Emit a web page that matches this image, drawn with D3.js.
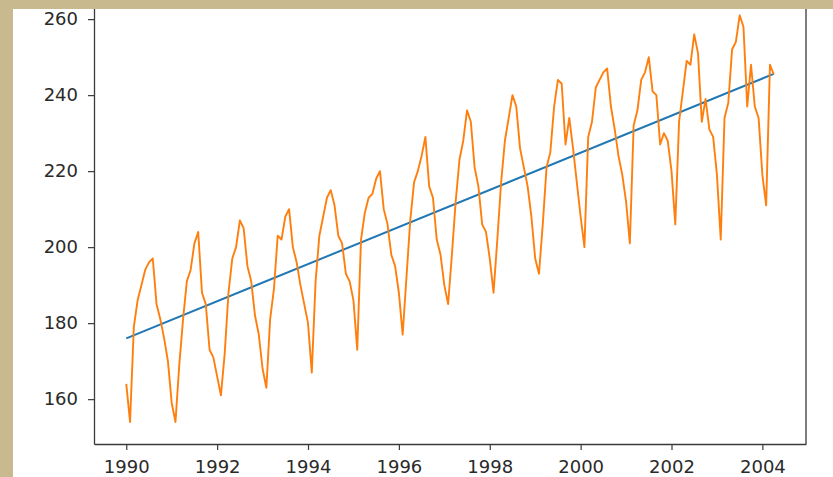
<!DOCTYPE html>
<html>
<head>
<meta charset="utf-8">
<script src="https://cdn.jsdelivr.net/npm/d3@7/dist/d3.min.js"></script>
<style>
  html, body { margin: 0; padding: 0; background: #ffffff; }
  svg { display: block; }
  .tick text { font-family: "DejaVu Sans", sans-serif; font-size: 18px; fill: #2a2a2a; }
</style>
</head>
<body>
<svg id="chart" width="833" height="477"></svg>
<script>
// Monthly series, January 1990 through April 2004 (one row per year)
const startYear = 1990;
const monthly = [
  164, 154, 179, 186, 190, 194, 196, 197, 185, 181, 176, 170,   // 1990
  159, 154, 169, 181, 191, 194, 201, 204, 188, 185, 173, 171,   // 1991
  166, 161, 172, 188, 197, 200, 207, 205, 195, 191, 182, 177,   // 1992
  168, 163, 181, 189, 203, 202, 208, 210, 200, 196, 190, 185,   // 1993
  180, 167, 191, 203, 208, 213, 215, 211, 203, 201, 193, 191,   // 1994
  186, 173, 202, 209, 213, 214, 218, 220, 210, 206, 198, 195,   // 1995
  188, 177, 192, 207, 217, 220, 224, 229, 216, 213, 202, 198,   // 1996
  190, 185, 198, 212, 223, 228, 236, 233, 221, 216, 206, 204,   // 1997
  197, 188, 202, 217, 228, 234, 240, 237, 226, 221, 216, 208,   // 1998
  197, 193, 206, 221, 225, 237, 244, 243, 227, 234, 226, 217,   // 1999
  208, 200, 229, 233, 242, 244, 246, 247, 237, 231, 224, 219,   // 2000
  212, 201, 232, 236, 244, 246, 250, 241, 240, 227, 230, 228,   // 2001
  220, 206, 233, 241, 249, 248, 256, 251, 233, 239, 231, 229,   // 2002
  219, 202, 234, 238, 252, 254, 261, 258, 237, 248, 237, 234,   // 2003
  219, 211, 248, 245.5                                          // 2004
];

// Linear trend fitted to the series: value at the first and last month
const trendEnds = [176.0, 245.6];

// Axis ticks
const yearTicks = [1990, 1992, 1994, 1996, 1998, 2000, 2002, 2004];
const valueTicks = [160, 180, 200, 220, 240, 260];

const series = monthly.map((v, i) => ({ t: startYear + i / 12, v }));
const trend = [
  { t: series[0].t, v: trendEnds[0] },
  { t: series[series.length - 1].t, v: trendEnds[1] }
];

const svg = d3.select("#chart");
const plotLeft = 94, plotRight = 806, plotTop = -9, plotBottom = 444;

const x = d3.scaleLinear().domain([1989.29, 2004.96]).range([plotLeft, plotRight]);
const y = d3.scaleLinear().domain([148.2, 267.4]).range([plotBottom, plotTop]);

const line = d3.line().x(d => x(d.t)).y(d => y(d.v));

// trend first, series drawn over it
svg.append("path")
  .datum(trend)
  .attr("d", line)
  .attr("fill", "none")
  .attr("stroke", "#1f77b4")
  .attr("stroke-width", 2);

svg.append("path")
  .datum(series)
  .attr("d", line)
  .attr("fill", "none")
  .attr("stroke", "#ff7f0e")
  .attr("stroke-width", 1.9)
  .attr("stroke-linejoin", "round");

// axes
const xAxis = svg.append("g")
  .attr("transform", `translate(0,${plotBottom})`)
  .call(d3.axisBottom(x).tickValues(yearTicks).tickFormat(d3.format("d"))
    .tickSize(6).tickSizeOuter(0).tickPadding(10));

const yAxis = svg.append("g")
  .attr("transform", `translate(${plotLeft},0)`)
  .call(d3.axisLeft(y).tickValues(valueTicks)
    .tickSize(6).tickSizeOuter(0).tickPadding(10));

[xAxis, yAxis].forEach(g => {
  g.select(".domain").attr("stroke", "#3a3a3a").attr("stroke-width", 1.3);
  g.selectAll(".tick line").attr("stroke", "#3a3a3a").attr("stroke-width", 1.2);
  g.selectAll(".tick text").attr("font-family", null).attr("font-size", null);
});

// right and top spines
svg.append("line")
  .attr("x1", plotRight).attr("x2", plotRight).attr("y1", plotTop).attr("y2", plotBottom)
  .attr("stroke", "#3a3a3a").attr("stroke-width", 1.3);
svg.append("line")
  .attr("x1", plotLeft).attr("x2", plotRight).attr("y1", plotTop).attr("y2", plotTop)
  .attr("stroke", "#3a3a3a").attr("stroke-width", 1.3);

// page frame on the left and top edges
svg.append("rect").attr("x", 0).attr("y", 0).attr("width", 833).attr("height", 9).attr("fill", "#c9b98f");
svg.append("rect").attr("x", 0).attr("y", 0).attr("width", 13).attr("height", 477).attr("fill", "#c9b98f");
</script>
</body>
</html>
